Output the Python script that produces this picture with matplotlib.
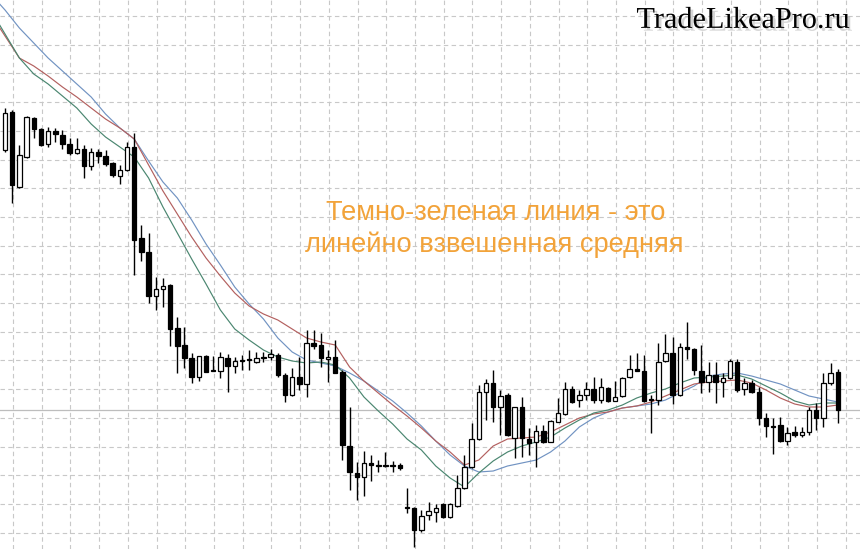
import matplotlib.pyplot as plt
import matplotlib.patheffects as pe
import numpy as np

# свечи (цены)
opens = [1.3410, 1.3448, 1.3373, 1.3403, 1.3442, 1.3431, 1.3416, 1.3429, 1.3425, 1.3416,
         1.3407, 1.3411, 1.3394, 1.3408, 1.3404, 1.3397, 1.3384, 1.3390, 1.3413, 1.3322,
         1.3308, 1.3264, 1.3271, 1.3275, 1.3232, 1.3215, 1.3202, 1.3183, 1.3204, 1.3190,
         1.3189, 1.3202, 1.3194, 1.3200, 1.3201, 1.3198, 1.3203, 1.3203, 1.3205, 1.3185,
         1.3165, 1.3183, 1.3176, 1.3217, 1.3215, 1.3201, 1.3203, 1.3188, 1.3114, 1.3087,
         1.3083, 1.3097, 1.3095, 1.3095, 1.3095, 1.3095, 1.3053, 1.3052, 1.3030, 1.3045,
         1.3048, 1.3056, 1.3043, 1.3054, 1.3072, 1.3093, 1.3121, 1.3168, 1.3177, 1.3153,
         1.3165, 1.3122, 1.3153, 1.3121, 1.3118, 1.3129, 1.3118, 1.3138, 1.3146, 1.3171,
         1.3160, 1.3165, 1.3171, 1.3160, 1.3172, 1.3159, 1.3164, 1.3183, 1.3191, 1.3189,
         1.3161, 1.3160, 1.3199, 1.3207, 1.3165, 1.3213, 1.3211, 1.3189, 1.3178, 1.3185,
         1.3178, 1.3182, 1.3198, 1.3171, 1.3177, 1.3168, 1.3142, 1.3134, 1.3135, 1.3119,
         1.3128, 1.3125, 1.3128, 1.3150, 1.3142, 1.3177, 1.3188]
highs = [1.3452, 1.3450, 1.3415, 1.3444, 1.3443, 1.3432, 1.3433, 1.3432, 1.3430, 1.3422,
         1.3422, 1.3415, 1.3412, 1.3411, 1.3410, 1.3398, 1.3395, 1.3418, 1.3427, 1.3335,
         1.3327, 1.3283, 1.3282, 1.3276, 1.3243, 1.3233, 1.3207, 1.3204, 1.3205, 1.3204,
         1.3208, 1.3206, 1.3203, 1.3205, 1.3210, 1.3208, 1.3208, 1.3211, 1.3207, 1.3187,
         1.3192, 1.3203, 1.3230, 1.3230, 1.3227, 1.3210, 1.3220, 1.3190, 1.3153, 1.3098,
         1.3109, 1.3105, 1.3100, 1.3108, 1.3099, 1.3097, 1.3072, 1.3053, 1.3050, 1.3058,
         1.3056, 1.3057, 1.3057, 1.3085, 1.3105, 1.3137, 1.3175, 1.3181, 1.3190, 1.3170,
         1.3167, 1.3153, 1.3163, 1.3132, 1.3135, 1.3135, 1.3140, 1.3162, 1.3178, 1.3174,
         1.3170, 1.3178, 1.3183, 1.3182, 1.3173, 1.3179, 1.3183, 1.3205, 1.3207, 1.3205,
         1.3165, 1.3217, 1.3226, 1.3223, 1.3217, 1.3238, 1.3212, 1.3215, 1.3198, 1.3198,
         1.3187, 1.3201, 1.3201, 1.3182, 1.3180, 1.3173, 1.3147, 1.3142, 1.3143, 1.3133,
         1.3134, 1.3133, 1.3153, 1.3157, 1.3187, 1.3197, 1.3191]
lows = [1.3408, 1.3357, 1.3372, 1.3402, 1.3422, 1.3414, 1.3413, 1.3418, 1.3411, 1.3405,
        1.3406, 1.3382, 1.3390, 1.3397, 1.3394, 1.3383, 1.3376, 1.3389, 1.3285, 1.3299,
        1.3257, 1.3250, 1.3253, 1.3214, 1.3187, 1.3192, 1.3177, 1.3179, 1.3188, 1.3189,
        1.3182, 1.3168, 1.3187, 1.3190, 1.3190, 1.3197, 1.3198, 1.3200, 1.3183, 1.3158,
        1.3164, 1.3170, 1.3163, 1.3211, 1.3193, 1.3178, 1.3187, 1.3100, 1.3070, 1.3060,
        1.3064, 1.3079, 1.3088, 1.3093, 1.3088, 1.3090, 1.3047, 1.3013, 1.3028, 1.3040,
        1.3038, 1.3042, 1.3042, 1.3053, 1.3071, 1.3092, 1.3120, 1.3140, 1.3138, 1.3125,
        1.3124, 1.3102, 1.3103, 1.3105, 1.3093, 1.3117, 1.3118, 1.3138, 1.3145, 1.3157,
        1.3153, 1.3160, 1.3157, 1.3157, 1.3158, 1.3159, 1.3163, 1.3182, 1.3189, 1.3158,
        1.3127, 1.3155, 1.3198, 1.3156, 1.3164, 1.3201, 1.3185, 1.3167, 1.3168, 1.3157,
        1.3163, 1.3181, 1.3168, 1.3165, 1.3167, 1.3135, 1.3123, 1.3106, 1.3118, 1.3115,
        1.3123, 1.3123, 1.3125, 1.3130, 1.3133, 1.3175, 1.3137]
closes = [1.3447, 1.3375, 1.3405, 1.3443, 1.3431, 1.3415, 1.3429, 1.3426, 1.3416, 1.3407,
          1.3411, 1.3394, 1.3408, 1.3404, 1.3396, 1.3385, 1.3390, 1.3413, 1.3320, 1.3308,
          1.3264, 1.3271, 1.3274, 1.3231, 1.3214, 1.3202, 1.3183, 1.3204, 1.3188, 1.3189,
          1.3203, 1.3194, 1.3199, 1.3199, 1.3200, 1.3202, 1.3202, 1.3206, 1.3185, 1.3165,
          1.3183, 1.3176, 1.3217, 1.3214, 1.3202, 1.3203, 1.3187, 1.3115, 1.3088, 1.3083,
          1.3097, 1.3095, 1.3094, 1.3094, 1.3094, 1.3092, 1.3052, 1.3030, 1.3044, 1.3049,
          1.3052, 1.3043, 1.3056, 1.3072, 1.3093, 1.3121, 1.3168, 1.3177, 1.3153, 1.3164,
          1.3125, 1.3153, 1.3122, 1.3117, 1.3129, 1.3118, 1.3139, 1.3147, 1.3171, 1.3158,
          1.3165, 1.3171, 1.3160, 1.3173, 1.3159, 1.3163, 1.3182, 1.3191, 1.3189, 1.3159,
          1.3160, 1.3198, 1.3207, 1.3165, 1.3213, 1.3211, 1.3190, 1.3178, 1.3185, 1.3178,
          1.3182, 1.3199, 1.3170, 1.3177, 1.3168, 1.3142, 1.3134, 1.3133, 1.3119, 1.3127,
          1.3125, 1.3128, 1.3150, 1.3142, 1.3177, 1.3187, 1.3150]

# скользящие средние (номер свечи -> значение)
ma_idx = [-1, 0, 2, 4, 6, 8, 10, 12, 14, 16, 18, 20, 22, 24, 26, 28, 30, 32, 34, 36,
          38, 40, 42, 44, 46, 48, 50, 52, 54, 56, 58, 60, 62, 64, 66, 68, 70, 72, 74, 76,
          78, 80, 82, 84, 86, 88, 90, 92, 94, 96, 98, 100, 102, 104, 106, 108, 110, 112,
          114, 116]
ma_blue = [1.3558, 1.3550, 1.3532, 1.3517, 1.3502, 1.3489, 1.3476, 1.3463, 1.3446, 1.3432,
           1.3421, 1.3399, 1.3378, 1.3362, 1.3340, 1.3316, 1.3295, 1.3273, 1.3256, 1.3241,
           1.3222, 1.3208, 1.3200, 1.3197, 1.3194, 1.3187, 1.3179, 1.3169, 1.3159, 1.3147,
           1.3134, 1.3119, 1.3105, 1.3094, 1.3088, 1.3089, 1.3094, 1.3097, 1.3100, 1.3108,
           1.3119, 1.3133, 1.3142, 1.3148, 1.3152, 1.3154, 1.3156, 1.3160, 1.3167, 1.3174,
           1.3184, 1.3186, 1.3187, 1.3184, 1.3180, 1.3176, 1.3170, 1.3164, 1.3161, 1.3158]
ma_red = [1.3535, 1.3524, 1.3502, 1.3494, 1.3484, 1.3473, 1.3463, 1.3452, 1.3441, 1.3432,
          1.3421, 1.3395, 1.3369, 1.3346, 1.3323, 1.3302, 1.3284, 1.3267, 1.3254, 1.3246,
          1.3240, 1.3231, 1.3222, 1.3218, 1.3215, 1.3193, 1.3179, 1.3167, 1.3155, 1.3144,
          1.3132, 1.3119, 1.3108, 1.3095, 1.3100, 1.3114, 1.3121, 1.3122, 1.3123, 1.3128,
          1.3135, 1.3142, 1.3146, 1.3148, 1.3152, 1.3154, 1.3158, 1.3164, 1.3170, 1.3176,
          1.3178, 1.3179, 1.3180, 1.3177, 1.3170, 1.3162, 1.3156, 1.3153, 1.3153, 1.3155]
ma_green = [1.3538, 1.3526, 1.3502, 1.3486, 1.3476, 1.3464, 1.3452, 1.3436, 1.3423, 1.3413,
            1.3403, 1.3382, 1.3353, 1.3327, 1.3301, 1.3276, 1.3250, 1.3231, 1.3220, 1.3210,
            1.3203, 1.3199, 1.3197, 1.3198, 1.3195, 1.3182, 1.3163, 1.3149, 1.3136, 1.3121,
            1.3110, 1.3094, 1.3082, 1.3073, 1.3087, 1.3099, 1.3108, 1.3114, 1.3118, 1.3123,
            1.3132, 1.3140, 1.3147, 1.3150, 1.3155, 1.3162, 1.3167, 1.3171, 1.3177, 1.3182,
            1.3183, 1.3184, 1.3185, 1.3181, 1.3174, 1.3167, 1.3159, 1.3155, 1.3157, 1.3157]

bid_price = 1.3150

fig = plt.figure(figsize=(8.6, 5.49), dpi=100)
ax = fig.add_axes([0, 0, 1, 1])
ax.set_facecolor('white')

x = np.arange(len(opens))
o = np.array(opens)
c = np.array(closes)
up = c >= o

# сетка
ax.set_xticks(np.arange(1.11, 120, 4.0))
ax.set_yticks(1.3544 - 0.00287 * np.arange(20))
ax.grid(True, color='#c8c8c8', linestyle=(0, (4, 3)), linewidth=0.8)
ax.set_axisbelow(True)
ax.tick_params(length=0, labelbottom=False, labelleft=False)
for s in ax.spines.values():
    s.set_visible(False)

ax.axhline(bid_price, color='#bdbdbd', linewidth=0.9, zorder=1)

# средние
ax.plot(ma_idx, ma_blue, color='#7193c2', linewidth=0.85, zorder=2)
ax.plot(ma_idx, ma_red, color='#b3605f', linewidth=0.85, zorder=2)
ax.plot(ma_idx, ma_green, color='#4a8670', linewidth=0.85, zorder=2)

# свечи
ax.vlines(x, lows, highs, color='black', linewidth=1.0, zorder=3)
body_low = np.minimum(o, c)
body_h = np.abs(c - o)
ax.bar(x[up], body_h[up], bottom=body_low[up], width=0.62, color='white',
       edgecolor='black', linewidth=0.9, zorder=4)
ax.bar(x[~up], body_h[~up], bottom=body_low[~up], width=0.62, color='black',
       edgecolor='black', linewidth=0.9, zorder=4)

ax.set_xlim(-0.7, 119.1)
ax.set_ylim(1.3011, 1.3560)

orange = '#f2a33a'
ax.text(0.576, 0.612, 'Темно-зеленая линия - это', transform=ax.transAxes,
        ha='center', va='center', color=orange, fontsize=19.6, family='Liberation Sans')
ax.text(0.575, 0.555, 'линейно взвешенная средняя', transform=ax.transAxes,
        ha='center', va='center', color=orange, fontsize=19.6, family='Liberation Sans')

ax.text(0.988, 0.962, 'TradeLikeaPro.ru', transform=ax.transAxes, ha='right', va='center',
        fontsize=21.8, family='Liberation Serif', color='black',
        path_effects=[pe.withSimplePatchShadow(offset=(2, -2), shadow_rgbFace='#888888', alpha=0.35)])

fig.savefig('out.png', dpi=100)
